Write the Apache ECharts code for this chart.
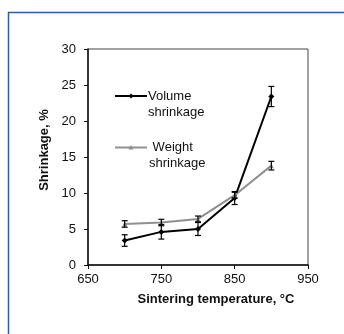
<!DOCTYPE html>
<html>
<head>
<meta charset="utf-8">
<script src="https://cdn.jsdelivr.net/npm/echarts@6/dist/echarts.min.js"></script>
<style>
  html, body { margin: 0; padding: 0; background: #fff; }
  #chart { width: 344px; height: 334px; }
</style>
</head>
<body>
<div id="chart"></div>
<script>
// sintering temperatures, °C
const temps = [700, 750, 800, 850, 900];
// shrinkage values, %
const volumeShrink = [3.4, 4.6, 5.0, 9.3, 23.4];
const volumeErr = [0.8, 1.0, 0.9, 0.9, 1.4];
const weightShrink = [5.7, 5.9, 6.4, 9.7, 13.8];
const weightErr = [0.45, 0.45, 0.4, 0.4, 0.6];

const font = 'Liberation Sans, Arial, sans-serif';

// error bar data: [x, low, high]
function errData(vals, errs) {
  return temps.map((t, i) => [t, vals[i] - errs[i], vals[i] + errs[i]]);
}

function renderErr(params, api) {
  const lo = api.coord([api.value(0), api.value(1)]);
  const hi = api.coord([api.value(0), api.value(2)]);
  const half = 3;
  const style = {stroke: '#000', lineWidth: 1.2};
  return {
    type: 'group',
    children: [
      {type: 'line', shape: {x1: lo[0], y1: lo[1], x2: hi[0], y2: hi[1]}, style},
      {type: 'line', shape: {x1: lo[0] - half, y1: lo[1], x2: lo[0] + half, y2: lo[1]}, style},
      {type: 'line', shape: {x1: hi[0] - half, y1: hi[1], x2: hi[0] + half, y2: hi[1]}, style}
    ]
  };
}

const chart = echarts.init(document.getElementById('chart'));

const option = {
  animation: false,
  grid: {
    left: 88, top: 49, right: 36, bottom: 69,
    show: true, borderColor: '#444', borderWidth: 1,
    outerBoundsMode: 'none'
  },
  xAxis: {
    type: 'value', min: 650, max: 950, interval: 100,
    name: 'Sintering temperature, °C',
    nameLocation: 'middle', nameGap: 28,
    nameTextStyle: {fontFamily: font, fontSize: 13, fontWeight: 'bold', color: '#111', padding: [0, 0, 0, 36]},
    axisLine: {lineStyle: {color: '#111', width: 1.5}},
    axisTick: {length: 4, lineStyle: {color: '#111'}},
    axisLabel: {fontFamily: font, fontSize: 13, color: '#111', margin: 8},
    splitLine: {show: false}
  },
  yAxis: {
    type: 'value', min: 0, max: 30, interval: 5,
    name: 'Shrinkage, %',
    nameLocation: 'middle', nameGap: 33,
    nameTextStyle: {fontFamily: font, fontSize: 13, fontWeight: 'bold', color: '#111', padding: [0, 0, 0, 14]},
    axisLine: {lineStyle: {color: '#111', width: 1.5}},
    axisTick: {length: 4, lineStyle: {color: '#111'}},
    axisLabel: {fontFamily: font, fontSize: 13, color: '#111', margin: 12},
    splitLine: {show: false}
  },
  graphic: [
    // outer blue frame
    {type: 'rect', shape: {x: 8.5, y: 12.5, width: 400, height: 400},
      style: {fill: 'none', stroke: '#2b5ea3', lineWidth: 1.5}, silent: true},
    // legend
    {type: 'line', shape: {x1: 115, y1: 96, x2: 147, y2: 96}, style: {stroke: '#000', lineWidth: 2}},
    {type: 'polygon', shape: {points: [[131, 93.5], [133.5, 96], [131, 98.5], [128.5, 96]]}, style: {fill: '#000'}},
    {type: 'text', left: 148, top: 89,
      style: {text: 'Volume\nshrinkage', fontFamily: font, fontSize: 13, lineHeight: 15.5, fill: '#111'}},
    {type: 'line', shape: {x1: 115, y1: 147.5, x2: 147, y2: 147.5}, style: {stroke: '#909090', lineWidth: 2}},
    {type: 'polygon', shape: {points: [[131, 145], [133.5, 149.5], [128.5, 149.5]]}, style: {fill: '#909090'}},
    {type: 'text', left: 149, top: 140,
      style: {text: ' Weight\nshrinkage', fontFamily: font, fontSize: 13, lineHeight: 15.5, fill: '#111'}}
  ],
  series: [
    {
      name: 'Volume shrinkage', type: 'line',
      data: temps.map((t, i) => [t, volumeShrink[i]]),
      symbol: 'diamond', symbolSize: 6,
      itemStyle: {color: '#000'},
      lineStyle: {color: '#000', width: 2}
    },
    {
      name: 'Weight shrinkage', type: 'line',
      data: temps.map((t, i) => [t, weightShrink[i]]),
      symbol: 'triangle', symbolSize: 5,
      itemStyle: {color: '#909090'},
      lineStyle: {color: '#909090', width: 2}
    },
    {
      type: 'custom', renderItem: renderErr, data: errData(volumeShrink, volumeErr), z: 5,
      encode: {x: 0, y: [1, 2]}
    },
    {
      type: 'custom', renderItem: renderErr, data: errData(weightShrink, weightErr), z: 5,
      encode: {x: 0, y: [1, 2]}
    }
  ]
};

chart.setOption(option);
</script>
</body>
</html>
